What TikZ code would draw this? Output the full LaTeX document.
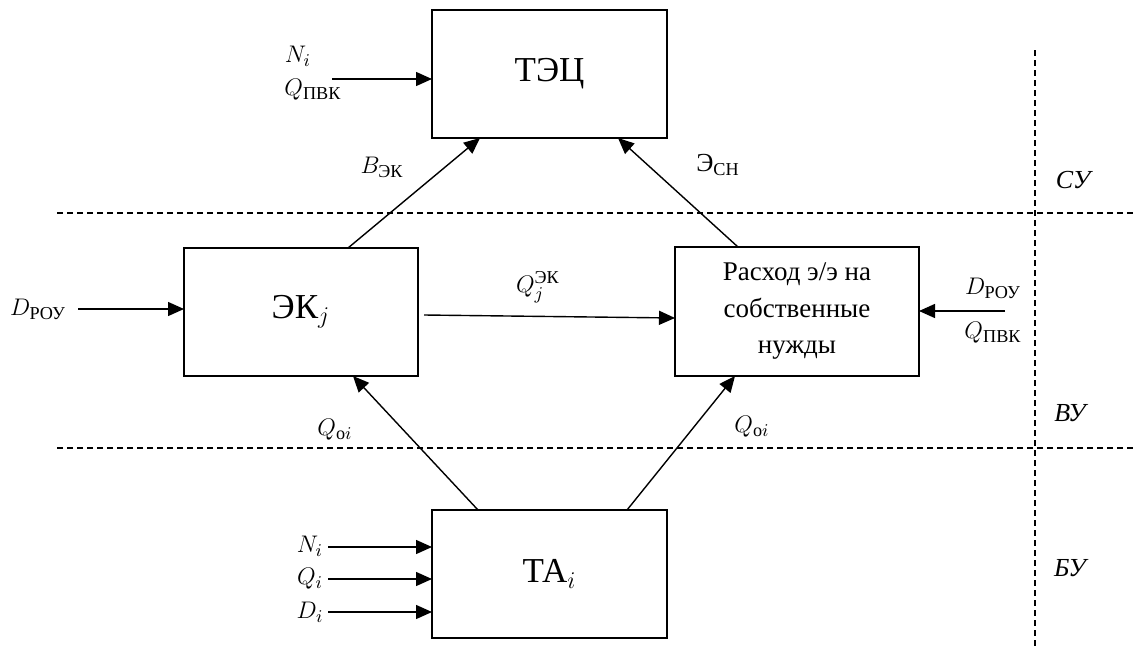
\documentclass[tikz,border=0pt]{standalone}
\usepackage{amsmath}
\usepackage{fontspec}
\setmainfont{Liberation Serif}
\usetikzlibrary{arrows.meta,calc}
\tikzset{
  blk/.style={draw, line width=0.75pt, inner sep=0pt, outer sep=0pt, align=center},
  bigtxt/.style={font=\fontsize{17.5}{20}\selectfont},
  lbl/.style={font=\fontsize{13}{15}\selectfont, inner sep=0pt},
  seclbl/.style={font=\fontsize{13}{15}\selectfont\itshape, inner sep=0pt},
  conn/.style={line width=0.7pt, -{Triangle[length=8pt,width=7pt]}},
  sep/.style={line width=0.6pt, dash pattern=on 3pt off 2pt},
}
\begin{document}
\begin{tikzpicture}[x=0.5pt,y=-0.5pt]
\useasboundingbox (0,0) rectangle (1134,648);
% boxes
\node[blk,bigtxt,minimum width=117.5pt,minimum height=64pt] (tec) at (549.5,74) {ТЭЦ};
\node[blk,bigtxt,minimum width=117pt,minimum height=64pt] (ek) at (301,312) {ЭК$_j$};
\node[blk,minimum width=122pt,minimum height=64.5pt,font=\fontsize{13.5}{18.25}\selectfont] (rash) at (797,311.5) {Расход э/э на\\собственные\\нужды};
\node[blk,bigtxt,minimum width=117.5pt,minimum height=64pt] (ta) at (549.5,574) {ТА$_i$};
% separators
\draw[sep] (57,213) -- (1134,213);
\draw[sep] (57,448) -- (1134,448);
\draw[sep] (1035,50) -- (1035,648);
% free ends
\coordinate (c1) at (332,79);
\coordinate (c2) at (78,309);
\coordinate (c3) at (1005,311);
\coordinate (c4) at (328,547);
\coordinate (c5) at (328,579);
\coordinate (c6) at (328,612);
% connectors
\draw[conn] (c1) -- ($(tec.west)+(0,5)$);
\draw[conn] ($(ek.north)+(47,0)$) -- ($(tec.south)+(-69.5,0)$);
\draw[conn] ($(rash.north)+(-59,0)$) -- ($(tec.south)+(68.5,0)$);
\draw[conn] (c2) -- ($(ek.west)+(0,-3)$);
\draw[conn] ($(ek.east)+(6,3)$) -- ($(rash.west)+(0,6.5)$);
\draw[conn] (c3) -- ($(rash.east)+(0,-0.5)$);
\draw[conn] ($(ta.north)+(-71.5,0)$) -- ($(ek.south)+(52,0)$);
\draw[conn] ($(ta.north)+(77.5,0)$) -- ($(rash.south)+(-62,0)$);
\draw[conn] (c4) -- ($(ta.west)+(0,-27)$);
\draw[conn] (c5) -- ($(ta.west)+(0,5)$);
\draw[conn] (c6) -- ($(ta.west)+(0,38)$);
% labels
\node[lbl] (l1) at (298,56) {$N_i$};
\node[lbl] (l2) at (313,90) {$Q_{\text{ПВК}}$};
\node[lbl] (l3) at (382,167) {$B_{\text{ЭК}}$};
\node[lbl] (l4) at (718,165) {Э$_{\text{СН}}$};
\node[lbl] (l5) at (38,309) {$D_{\text{РОУ}}$};
\node[lbl] (l6) at (538,287) {$Q_j^{\text{ЭК}}$};
\node[lbl] (l7) at (993,288) {$D_{\text{РОУ}}$};
\node[lbl] (l8) at (993,333) {$Q_{\text{ПВК}}$};
\node[lbl] (l9) at (335,430) {$Q_{\mathrm{o}i}$};
\node[lbl] (l10) at (752,427) {$Q_{\mathrm{o}i}$};
\node[lbl] (l11) at (310,546) {$N_i$};
\node[lbl] (l12) at (310,579) {$Q_i$};
\node[lbl] (l13) at (310,612) {$D_i$};
\node[seclbl] (s1) at (1073,180) {СУ};
\node[seclbl] (s2) at (1070,413) {ВУ};
\node[seclbl] (s3) at (1070,568) {БУ};
\end{tikzpicture}
\end{document}
